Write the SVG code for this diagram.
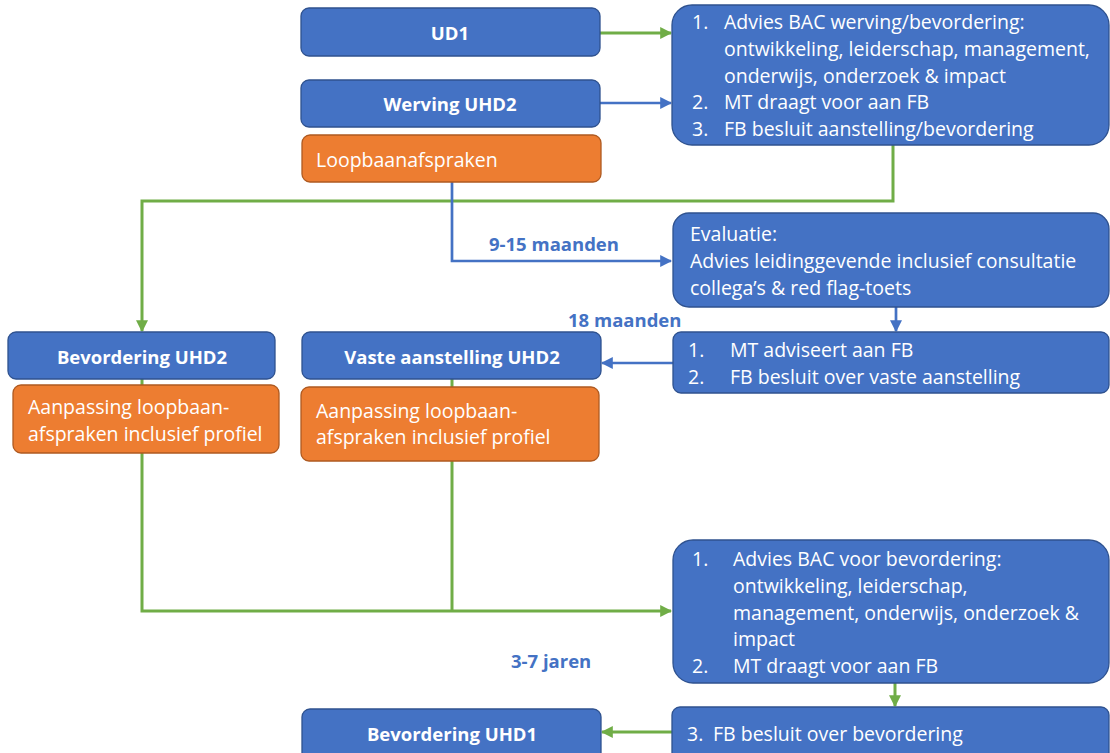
<svg xmlns="http://www.w3.org/2000/svg" width="1110" height="753" viewBox="0 0 1110 753">
<defs>
<style>
.bl{fill:#4472C4;stroke:#2F528F;stroke-width:1.3}
.or{fill:#ED7D31;stroke:#AE5A21;stroke-width:1.3}
.t{font-family:"Open Sans","Noto Sans",sans-serif;font-size:19.5px;fill:#fff}
.tb{font-family:"Open Sans","Noto Sans",sans-serif;font-size:18.5px;font-weight:bold;fill:#fff;text-anchor:middle}
.lb{font-family:"Open Sans","Noto Sans",sans-serif;font-size:18.5px;font-weight:bold;fill:#4472C4}
.g{fill:none;stroke:#70AD47;stroke-width:3}
.b{fill:none;stroke:#4472C4;stroke-width:2.7}
</style>
<marker id="ag" markerUnits="userSpaceOnUse" markerWidth="12" markerHeight="12" viewBox="0 0 10 10" refX="9" refY="5" orient="auto"><path d="M0,0 L10,5 L0,10 z" fill="#70AD47"/></marker>
<marker id="ab" markerUnits="userSpaceOnUse" markerWidth="12" markerHeight="12" viewBox="0 0 10 10" refX="9" refY="5" orient="auto"><path d="M0,0 L10,5 L0,10 z" fill="#4472C4"/></marker>
</defs>

<g id="connectors">
<path class="g" d="M600,33 H671" marker-end="url(#ag)"/>
<path class="b" d="M600,103 H671" marker-end="url(#ab)"/>
<path class="g" d="M893,145 V201 H142 V331" marker-end="url(#ag)"/>
<path class="b" d="M452,182 V261 H671" marker-end="url(#ab)"/>
<path class="b" d="M896,307 V331" marker-end="url(#ab)"/>
<path class="b" d="M673,363 H602" marker-end="url(#ab)"/>
<path class="g" d="M142,379 V611 H671" marker-end="url(#ag)"/>
<path class="g" d="M452,379 V611"/>
<path class="g" d="M895,683 V706" marker-end="url(#ag)"/>
<path class="g" d="M673,732 H602" marker-end="url(#ag)"/>
</g>

<g id="labels">
<text class="lb" x="489" y="251">9-15 maanden</text>
<text class="lb" x="568" y="327">18 maanden</text>
<text class="lb" x="511" y="668">3-7 jaren</text>
</g>

<g id="ud1"><rect class="bl" x="301" y="8" width="299" height="48" rx="8"/><text class="tb" x="450" y="40">UD1</text></g>
<g id="werving"><rect class="bl" x="301" y="80" width="299" height="47" rx="8"/><text class="tb" x="450" y="111">Werving UHD2</text></g>
<g id="loopbaan"><rect class="or" x="302" y="135" width="299" height="47" rx="8"/><text class="t" x="316" y="167">Loopbaanafspraken</text></g>

<g id="advies1"><rect class="bl" x="672" y="5" width="437" height="140" rx="20"/>
<text class="t"><tspan x="692" y="29">1.</tspan><tspan x="724" y="29">Advies BAC werving/bevordering:</tspan><tspan x="724" y="56">ontwikkeling, leiderschap, management,</tspan><tspan x="724" y="83">onderwijs, onderzoek &amp; impact</tspan><tspan x="692" y="109">2.</tspan><tspan x="724" y="109">MT draagt voor aan FB</tspan><tspan x="692" y="136">3.</tspan><tspan x="724" y="136">FB besluit aanstelling/bevordering</tspan></text></g>

<g id="evaluatie"><rect class="bl" x="673" y="213" width="436" height="94" rx="16"/>
<text class="t"><tspan x="690" y="241">Evaluatie:</tspan><tspan x="690" y="268">Advies leidinggevende inclusief consultatie</tspan><tspan x="690" y="295">collega’s &amp; red flag-toets</tspan></text></g>

<g id="mt"><rect class="bl" x="673" y="332" width="436" height="61" rx="8"/>
<text class="t"><tspan x="688" y="357">1.</tspan><tspan x="730" y="357">MT adviseert aan FB</tspan><tspan x="688" y="384">2.</tspan><tspan x="730" y="384">FB besluit over vaste aanstelling</tspan></text></g>

<g id="bev2"><rect class="bl" x="8" y="332" width="267" height="47" rx="8"/><text class="tb" x="142" y="364">Bevordering UHD2</text></g>
<g id="vaste"><rect class="bl" x="302" y="332" width="299" height="47" rx="8"/><text class="tb" x="452" y="364">Vaste aanstelling UHD2</text></g>

<g id="aanp1"><rect class="or" x="13" y="385" width="266" height="68" rx="8"/>
<text class="t"><tspan x="28" y="414">Aanpassing loopbaan-</tspan><tspan x="28" y="441">afspraken inclusief profiel</tspan></text></g>
<g id="aanp2"><rect class="or" x="301" y="387" width="298" height="74" rx="8"/>
<text class="t"><tspan x="316" y="418">Aanpassing loopbaan-</tspan><tspan x="316" y="444">afspraken inclusief profiel</tspan></text></g>

<g id="advies2"><rect class="bl" x="673" y="540" width="436" height="143" rx="20"/>
<text class="t"><tspan x="692" y="566">1.</tspan><tspan x="733" y="566">Advies BAC voor bevordering:</tspan><tspan x="733" y="593">ontwikkeling, leiderschap,</tspan><tspan x="733" y="620">management, onderwijs, onderzoek &amp;</tspan><tspan x="733" y="646">impact</tspan><tspan x="692" y="673">2.</tspan><tspan x="733" y="673">MT draagt voor aan FB</tspan></text></g>

<g id="fb"><rect class="bl" x="672" y="707" width="437" height="56" rx="8"/>
<text class="t"><tspan x="687" y="741">3.</tspan><tspan x="713" y="741">FB besluit over bevordering</tspan></text></g>

<g id="bev1"><rect class="bl" x="302" y="709" width="299" height="54" rx="8"/><text class="tb" x="452" y="741">Bevordering UHD1</text></g>
</svg>
